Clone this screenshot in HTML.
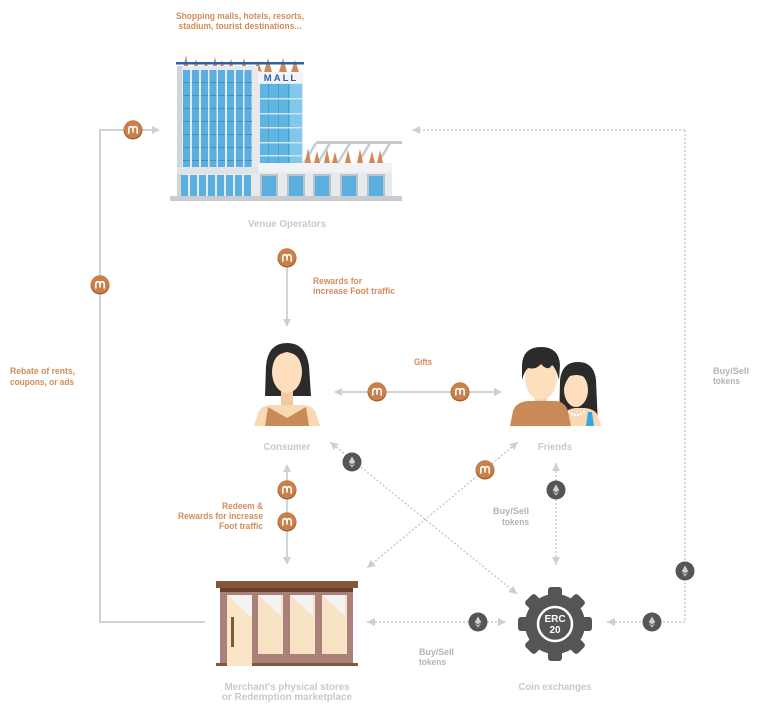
<!DOCTYPE html>
<html><head><meta charset="utf-8"><style>
html,body{margin:0;padding:0;background:#fff;}
svg{display:block;}
text{font-family:"Liberation Sans",sans-serif;font-weight:bold;}
.o{fill:#d38c5a;font-size:9px;}
.g{fill:#c9c9c9;font-size:10px;}
.b{fill:#b3b3b3;font-size:9px;}
</style></head><body>
<svg width="768" height="721" viewBox="0 0 768 721" xmlns="http://www.w3.org/2000/svg">
<defs>
<marker id="ar" viewBox="0 0 8 8" refX="8" refY="4" markerWidth="8" markerHeight="8" markerUnits="userSpaceOnUse" orient="auto-start-reverse"><path d="M0,0 L8,4 L0,8 z" fill="#cfcfcf"/></marker>
<g id="coin"><circle r="9.5" fill="#9d5b2e"/><circle r="9" cy="-0.8" fill="#c9804a"/><path d="M-4.2,3 V-0.5 Q-4.2,-3.3 -2.1,-3.3 Q0,-3.3 0,-0.5 V2 M0,-0.5 Q0,-3.3 2.1,-3.3 Q4.2,-3.3 4.2,-0.5 V3" fill="none" stroke="#fff" stroke-width="1.6" stroke-linecap="round"/></g>
<g id="eth"><circle r="9.5" fill="#555"/><path d="M0,-5.5 L3.3,0.3 L0,2.2 L-3.3,0.3 Z" fill="#cfcfcf"/><path d="M0,3.2 L3.3,1.3 L0,5.8 L-3.3,1.3 Z" fill="#bdbdbd"/></g>
</defs>

<!-- ===== MALL ===== -->
<g>
<!-- top cones -->
<g fill="#d08a57">
<polygon points="183,70 186,55 189,70"/><polygon points="193,70 196,59 199,70"/><polygon points="203,70 206,61 209,70"/>
<polygon points="212,70 215,57 218,70"/><polygon points="219,70 222,60 225,70"/><polygon points="228,70 231,59 234,70"/>
<polygon points="241,70 244,58 247,70"/><polygon points="254,70 258,61 262,72"/><polygon points="264,72 268,58 272,72"/>
<polygon points="279,72 283,58 287,72"/><polygon points="291,72 295,60 299,72"/>
</g>
<rect x="176" y="62" width="128" height="2.5" fill="#2f5fa8"/>
<!-- left tower -->
<rect x="177" y="66" width="81" height="131" fill="#e6eaec"/>
<rect x="177" y="66" width="5" height="131" fill="#cfd6da"/>
<g fill="#5aafe0">
<rect x="183" y="70" width="7" height="97"/><rect x="192" y="70" width="7" height="97"/><rect x="201" y="70" width="7" height="97"/><rect x="209.5" y="70" width="7" height="97"/>
<rect x="218" y="70" width="7" height="97"/><rect x="227" y="70" width="7" height="97"/><rect x="236" y="70" width="7" height="97"/><rect x="244.5" y="70" width="7" height="97"/>
</g>
<g fill="#3f8fc2">
<rect x="183" y="82" width="69" height="1"/><rect x="183" y="95" width="69" height="1"/><rect x="183" y="108" width="69" height="1"/>
<rect x="183" y="121" width="69" height="1"/><rect x="183" y="134" width="69" height="1"/><rect x="183" y="147" width="69" height="1"/><rect x="183" y="160" width="69" height="1"/>
</g>
<g fill="#e6eaec"><rect x="190" y="70" width="2" height="97"/><rect x="199" y="70" width="2" height="97"/><rect x="208" y="70" width="1.5" height="97"/><rect x="216.5" y="70" width="1.5" height="97"/><rect x="225" y="70" width="2" height="97"/><rect x="234" y="70" width="2" height="97"/><rect x="243" y="70" width="1.5" height="97"/></g>
<rect x="177" y="167" width="81" height="7" fill="#dfe4e7"/>
<g fill="#5aafe0">
<rect x="181" y="175" width="7" height="21"/><rect x="190" y="175" width="7" height="21"/><rect x="199" y="175" width="7" height="21"/><rect x="208" y="175" width="7" height="21"/>
<rect x="217" y="175" width="7" height="21"/><rect x="226" y="175" width="7" height="21"/><rect x="235" y="175" width="7" height="21"/><rect x="244" y="175" width="7" height="21"/>
</g>
<!-- right tower -->
<rect x="258" y="72" width="45" height="91" fill="#e6eaec"/>
<rect x="258" y="72" width="45" height="11" fill="#f3f4f5"/>
<text x="281" y="81" text-anchor="middle" style="font-size:9.5px;fill:#2e5fa8;letter-spacing:2px;">MALL</text>
<rect x="260" y="84" width="42" height="79" fill="#5fb5e2"/>
<rect x="290" y="84" width="12" height="79" fill="#80c9ec"/>
<g fill="#4a9fd0"><rect x="268" y="84" width="1" height="79"/><rect x="278" y="84" width="1" height="79"/><rect x="288" y="84" width="1" height="79"/></g>
<g fill="#d5e4ec"><rect x="260" y="98" width="42" height="1.5"/><rect x="260" y="113" width="42" height="1.5"/><rect x="260" y="127" width="42" height="1.5"/><rect x="260" y="142" width="42" height="1.5"/><rect x="260" y="155" width="42" height="1.5"/></g>
<!-- canopy -->
<rect x="316" y="141" width="86" height="3" fill="#c5ccd1"/>
<g stroke="#c5ccd1" stroke-width="2.5"><line x1="330" y1="143" x2="318" y2="163"/><line x1="350" y1="143" x2="338" y2="163"/><line x1="370" y1="143" x2="358" y2="163"/><line x1="390" y1="143" x2="378" y2="163"/><line x1="316" y1="143" x2="304" y2="163"/></g>
<g fill="#d08a57">
<polygon points="305,163 308,148 311,163"/><polygon points="314,163 317,151 320,163"/><polygon points="324,163 327,149 330,163"/><polygon points="332,163 335,152 338,163"/>
<polygon points="345,163 348,150 351,163"/><polygon points="357,163 360,149 363,163"/><polygon points="369,163 372,151 375,163"/><polygon points="377,163 380,150 383,163"/>
</g>
<!-- lower right -->
<rect x="258" y="163" width="134" height="34" fill="#e8ebed"/>
<rect x="258" y="163" width="134" height="9" fill="#f1f3f4"/>
<g fill="#b9c3c9"><rect x="260" y="174" width="18" height="23"/><rect x="287" y="174" width="18" height="23"/><rect x="313" y="174" width="18" height="23"/><rect x="340" y="174" width="18" height="23"/><rect x="367" y="174" width="18" height="23"/></g>
<g fill="#5aafe0"><rect x="262" y="176" width="14" height="21"/><rect x="289" y="176" width="14" height="21"/><rect x="315" y="176" width="14" height="21"/><rect x="342" y="176" width="14" height="21"/><rect x="369" y="176" width="14" height="21"/></g>
<rect x="170" y="196" width="232" height="5" fill="#c8ccd0"/>
</g>

<!-- ===== CONNECTORS ===== -->
<g fill="none" stroke="#d3d3d3" stroke-width="2">
<polyline points="205,622 100,622 100,130 153,130"/>
<line x1="287" y1="258" x2="287" y2="321"/>
<line x1="341" y1="392" x2="495" y2="392"/>
<line x1="287" y1="471" x2="287" y2="558"/>
</g>
<g fill="#cfcfcf">
<polygon points="160,130 152,126 152,134"/>
<polygon points="287,327 283,319 291,319"/>
<polygon points="334,392 342,388 342,396"/>
<polygon points="502,392 494,388 494,396"/>
<polygon points="287,464 283,472 291,472"/>
<polygon points="287,565 283,557 291,557"/>
</g>
<g fill="none" stroke="#c8c8c8" stroke-width="1.4" stroke-dasharray="2 2">
<line x1="685" y1="130" x2="412" y2="130" marker-end="url(#ar)"/>
<polyline points="685,130 685,622 607,622" marker-end="url(#ar)"/>
<line x1="367" y1="622" x2="506" y2="622" marker-start="url(#ar)" marker-end="url(#ar)"/>
<line x1="556" y1="463" x2="556" y2="565" marker-start="url(#ar)" marker-end="url(#ar)"/>
<line x1="330" y1="442" x2="517" y2="594" marker-start="url(#ar)" marker-end="url(#ar)"/>
<line x1="518" y1="442" x2="367" y2="568" marker-start="url(#ar)" marker-end="url(#ar)"/>
</g>

<!-- coins -->
<use href="#coin" x="133" y="130"/>
<use href="#coin" x="100" y="285"/>
<use href="#coin" x="287" y="258"/>
<use href="#coin" x="377" y="392"/>
<use href="#coin" x="460" y="392"/>
<use href="#coin" x="287" y="490"/>
<use href="#coin" x="287" y="522"/>
<use href="#coin" x="485" y="470"/>
<!-- eth -->
<use href="#eth" x="352" y="462"/>
<use href="#eth" x="556" y="490"/>
<use href="#eth" x="478" y="622"/>
<use href="#eth" x="652" y="622"/>
<use href="#eth" x="685" y="571"/>

<!-- ===== CONSUMER ===== -->
<g>
<path d="M265,396 L266,366 Q268,343 287,343 Q306,343 309,366 L311,396 Z" fill="#2b2b2b"/>
<rect x="281" y="388" width="12" height="18" fill="#f3c9a0"/>
<path d="M254,426 L258,413 Q261,406 270,405 L304,405 Q313,406 316,413 L320,426 Z" fill="#f9d8b4"/>
<path d="M265,426 L268,407 L287,418 L306,407 L309,426 Z" fill="#c98a57"/>
<ellipse cx="287" cy="372" rx="15" ry="21" fill="#fddfbd"/>
<path d="M271,368 Q270,347 287,346 Q304,347 303,368 Q300,354 287,352 Q274,354 271,368 Z" fill="#2b2b2b"/>
</g>

<!-- ===== FRIENDS ===== -->
<g>
<path d="M559,426 L560,380 Q562,362 578,362 Q594,362 596,380 L598,426 Z" fill="#2b2b2b"/>
<path d="M562,426 L564,414 Q567,409 575,408 L585,408 Q594,409 597,414 L601,426 Z" fill="#f9d8b4"/>
<path d="M586,426 L588,412 L592,412 L594,426 Z" fill="#2fa8e0"/>
<ellipse cx="576" cy="390" rx="12" ry="17" fill="#fddfbd"/>
<path d="M564,388 Q563,367 578,367 Q591,368 590,384 Q584,372 570,376 Q566,380 564,388 Z" fill="#2b2b2b"/>
<g fill="#fff"><circle cx="569" cy="412" r="1.2"/><circle cx="572" cy="414" r="1.2"/><circle cx="575" cy="415" r="1.2"/><circle cx="578" cy="415" r="1.2"/><circle cx="581" cy="414" r="1.2"/><circle cx="584" cy="412" r="1.2"/></g>
<rect x="535" y="392" width="12" height="12" fill="#f3c9a0"/>
<path d="M510,426 L513,411 Q516,402 528,401 L556,401 Q565,402 568,411 L571,426 Z" fill="#c98a57"/>
<ellipse cx="541" cy="378" rx="16" ry="22" fill="#fddfbd"/>
<path d="M522,380 L522,365 Q523,347 541,347 Q559,347 560,365 L559,380 Q556,368 552,365 Q548,372 541,364 Q536,370 528,368 Q524,372 522,380 Z" fill="#2b2b2b"/>
</g>

<!-- ===== STORE ===== -->
<g>
<rect x="216" y="581" width="142" height="7" fill="#84573a"/>
<rect x="220" y="588" width="133" height="4" fill="#6b4129"/>
<rect x="220" y="592" width="133" height="71" fill="#a9817a"/>
<rect x="227" y="595" width="25" height="71" fill="#fae5c6"/>
<rect x="258" y="595" width="25" height="59" fill="#f8e3c5"/>
<rect x="290" y="595" width="25" height="59" fill="#f8e3c5"/>
<rect x="322" y="595" width="25" height="59" fill="#f8e3c5"/>
<g fill="#f3f3f3"><polygon points="227,595 252,595 252,618"/><polygon points="258,595 281,595 281,616"/><polygon points="290,595 313,595 313,616"/><polygon points="322,595 345,595 345,616"/></g>
<rect x="231" y="617" width="3" height="30" fill="#84573a"/>
<rect x="216" y="663" width="11" height="3" fill="#84573a"/>
<rect x="252" y="663" width="106" height="3" fill="#84573a"/>
</g>

<!-- ===== GEAR ===== -->
<g transform="translate(555,624)" fill="#555">
<circle r="30"/>
<g><rect x="-7" y="-37" width="14" height="14" rx="3"/>
<rect x="-7" y="-37" width="14" height="14" rx="3" transform="rotate(45)"/>
<rect x="-7" y="-37" width="14" height="14" rx="3" transform="rotate(90)"/>
<rect x="-7" y="-37" width="14" height="14" rx="3" transform="rotate(135)"/>
<rect x="-7" y="-37" width="14" height="14" rx="3" transform="rotate(180)"/>
<rect x="-7" y="-37" width="14" height="14" rx="3" transform="rotate(225)"/>
<rect x="-7" y="-37" width="14" height="14" rx="3" transform="rotate(270)"/>
<rect x="-7" y="-37" width="14" height="14" rx="3" transform="rotate(315)"/></g>
<circle r="17" fill="none" stroke="#fff" stroke-width="2.5"/>
<text x="0" y="-2" text-anchor="middle" style="font-size:10px;fill:#fff;">ERC</text>
<text x="0" y="9" text-anchor="middle" style="font-size:10px;fill:#fff;">20</text>
</g>

<!-- ===== TEXT ===== -->
<text class="o" x="240" y="19" text-anchor="middle" textLength="128" lengthAdjust="spacingAndGlyphs">Shopping malls, hotels, resorts,</text>
<text class="o" x="240" y="29" text-anchor="middle" textLength="123" lengthAdjust="spacingAndGlyphs">stadium, tourist destinations...</text>
<text class="g" x="287" y="227" text-anchor="middle" textLength="78" lengthAdjust="spacingAndGlyphs">Venue Operators</text>
<text class="o" x="313" y="284" textLength="49" lengthAdjust="spacingAndGlyphs">Rewards for</text>
<text class="o" x="313" y="294" textLength="82" lengthAdjust="spacingAndGlyphs">increase Foot traffic</text>
<text class="o" x="423" y="365" text-anchor="middle" textLength="18" lengthAdjust="spacingAndGlyphs">Gifts</text>
<text class="g" x="287" y="450" text-anchor="middle" textLength="47" lengthAdjust="spacingAndGlyphs">Consumer</text>
<text class="g" x="555" y="450" text-anchor="middle" textLength="34" lengthAdjust="spacingAndGlyphs">Friends</text>
<text class="o" x="10" y="374" textLength="65" lengthAdjust="spacingAndGlyphs">Rebate of rents,</text>
<text class="o" x="10" y="385" textLength="64" lengthAdjust="spacingAndGlyphs">coupons, or ads</text>
<text class="b" x="713" y="374" textLength="36" lengthAdjust="spacingAndGlyphs">Buy/Sell</text>
<text class="b" x="713" y="384" textLength="27" lengthAdjust="spacingAndGlyphs">tokens</text>
<text class="o" x="263" y="509" text-anchor="end" textLength="41" lengthAdjust="spacingAndGlyphs">Redeem &amp;</text>
<text class="o" x="263" y="519" text-anchor="end" textLength="85" lengthAdjust="spacingAndGlyphs">Rewards for increase</text>
<text class="o" x="263" y="529" text-anchor="end" textLength="44" lengthAdjust="spacingAndGlyphs">Foot traffic</text>
<text class="b" x="529" y="514" text-anchor="end" textLength="36" lengthAdjust="spacingAndGlyphs">Buy/Sell</text>
<text class="b" x="529" y="525" text-anchor="end" textLength="27" lengthAdjust="spacingAndGlyphs">tokens</text>
<text class="b" x="419" y="655" textLength="35" lengthAdjust="spacingAndGlyphs">Buy/Sell</text>
<text class="b" x="419" y="665" textLength="27" lengthAdjust="spacingAndGlyphs">tokens</text>
<text class="g" x="287" y="690" text-anchor="middle" textLength="125" lengthAdjust="spacingAndGlyphs">Merchant's physical stores</text>
<text class="g" x="287" y="700" text-anchor="middle" textLength="130" lengthAdjust="spacingAndGlyphs">or Redemption marketplace</text>
<text class="g" x="555" y="690" text-anchor="middle" textLength="73" lengthAdjust="spacingAndGlyphs">Coin exchanges</text>
</svg>
</body></html>
